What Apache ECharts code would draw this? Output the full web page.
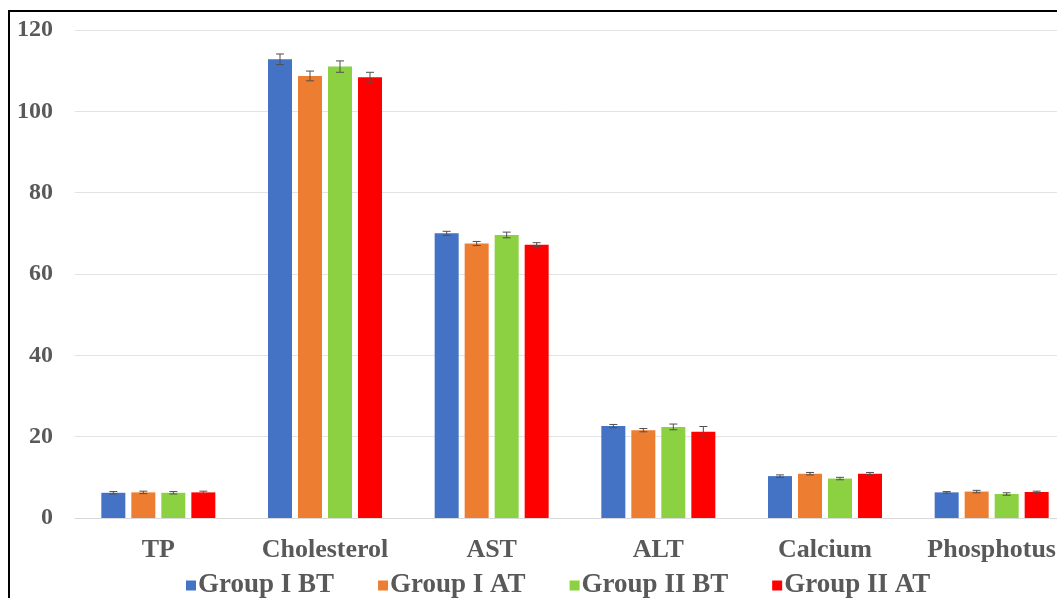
<!DOCTYPE html>
<html>
<head>
<meta charset="utf-8">
<script src="https://cdn.jsdelivr.net/npm/echarts@6/dist/echarts.min.js"></script>
<style>
  html, body { margin: 0; padding: 0; background: #fff; overflow: hidden; }
  #chart { width: 1057px; height: 598px; }
  .frame { position: absolute; left: 8px; top: 10px; width: 2000px; height: 2000px;
    border: 2px solid #000; pointer-events: none; }
</style>
</head>
<body>
<div id="chart"></div>
<div class="frame"></div>
<script>
const categories = ['TP', 'Cholesterol', 'AST', 'ALT', 'Calcium', 'Phosphotus']
const seriesNames = ['Group I BT', 'Group I AT', 'Group II BT', 'Group II AT']
const colors = ['#4472C4', '#ED7D31', '#8CD142', '#FF0000']

const g1bt = [6.2, 112.8, 70.0, 22.6, 10.3, 6.3]
const g1at = [6.3, 108.7, 67.5, 21.6, 10.9, 6.5]
const g2bt = [6.2, 111.0, 69.6, 22.4, 9.7, 5.9]
const g2at = [6.3, 108.4, 67.2, 21.2, 10.9, 6.4]

const g1btErr = [0.3, 1.3, 0.5, 0.4, 0.3, 0.2]
const g1atErr = [0.3, 1.2, 0.5, 0.4, 0.3, 0.3]
const g2btErr = [0.3, 1.4, 0.7, 0.7, 0.3, 0.3]
const g2atErr = [0.3, 1.2, 0.5, 1.3, 0.3, 0.2]

const yTicks = [0, 20, 40, 60, 80, 100, 120]

const values = [g1bt, g1at, g2bt, g2at]
const errors = [g1btErr, g1atErr, g2btErr, g2atErr]

const BAR_W = 24, BAR_GAP = 6
const font = '"Liberation Serif", "Times New Roman", serif'

const chart = echarts.init(document.getElementById('chart'), null, { renderer: 'canvas' })

const barSeries = values.map((vals, i) => ({
  name: seriesNames[i], type: 'bar', data: vals,
  barWidth: BAR_W, barGap: (BAR_GAP / BAR_W * 100) + '%',
  itemStyle: { color: colors[i] }
}))

// error bars drawn on top of each bar
const errSeries = values.map((vals, i) => ({
  type: 'custom', silent: true, z: 5,
  data: vals.map((v, k) => [k, v, errors[i][k]]),
  renderItem(params, api) {
    const off = (i - 1.5) * (BAR_W + BAR_GAP)
    const v = api.value(1), e = api.value(2)
    const top = api.coord([api.value(0), v + e])
    const bot = api.coord([api.value(0), v - e])
    const x = top[0] + off
    const st = { stroke: '#505050', lineWidth: 1 }
    return { type: 'group', children: [
      { type: 'line', shape: { x1: x, y1: top[1], x2: x, y2: bot[1] }, style: st },
      { type: 'line', shape: { x1: x - 4, y1: top[1], x2: x + 4, y2: top[1] }, style: st },
      { type: 'line', shape: { x1: x - 4, y1: bot[1], x2: x + 4, y2: bot[1] }, style: st }
    ] }
  }
}))

chart.setOption({
  animation: false,
  legend: {
    data: seriesNames, left: 181, top: 567, itemGap: 44,
    itemWidth: 10, itemHeight: 10, icon: 'rect',
    textStyle: { fontFamily: font, fontWeight: 'bold', fontSize: 27, color: '#595959', padding: [0, 0, 0, -3] }
  },
  grid: { left: 75, width: 1000, top: 30, bottom: 80, outerBoundsMode: 'none', containLabel: false },
  xAxis: {
    type: 'category', data: categories,
    axisLine: { lineStyle: { color: '#d9d9d9' } }, axisTick: { show: false },
    axisLabel: { interval: 0, fontFamily: font, fontWeight: 'bold', fontSize: 26, color: '#595959', margin: 19 }
  },
  yAxis: {
    type: 'value', min: yTicks[0], max: yTicks[yTicks.length - 1], interval: 20,
    axisLabel: { fontFamily: font, fontWeight: 'bold', fontSize: 24, color: '#595959', margin: 22 },
    splitLine: { lineStyle: { color: '#e3e3e3' } }
  },
  series: [...barSeries, ...errSeries]
})
</script>
</body>
</html>
